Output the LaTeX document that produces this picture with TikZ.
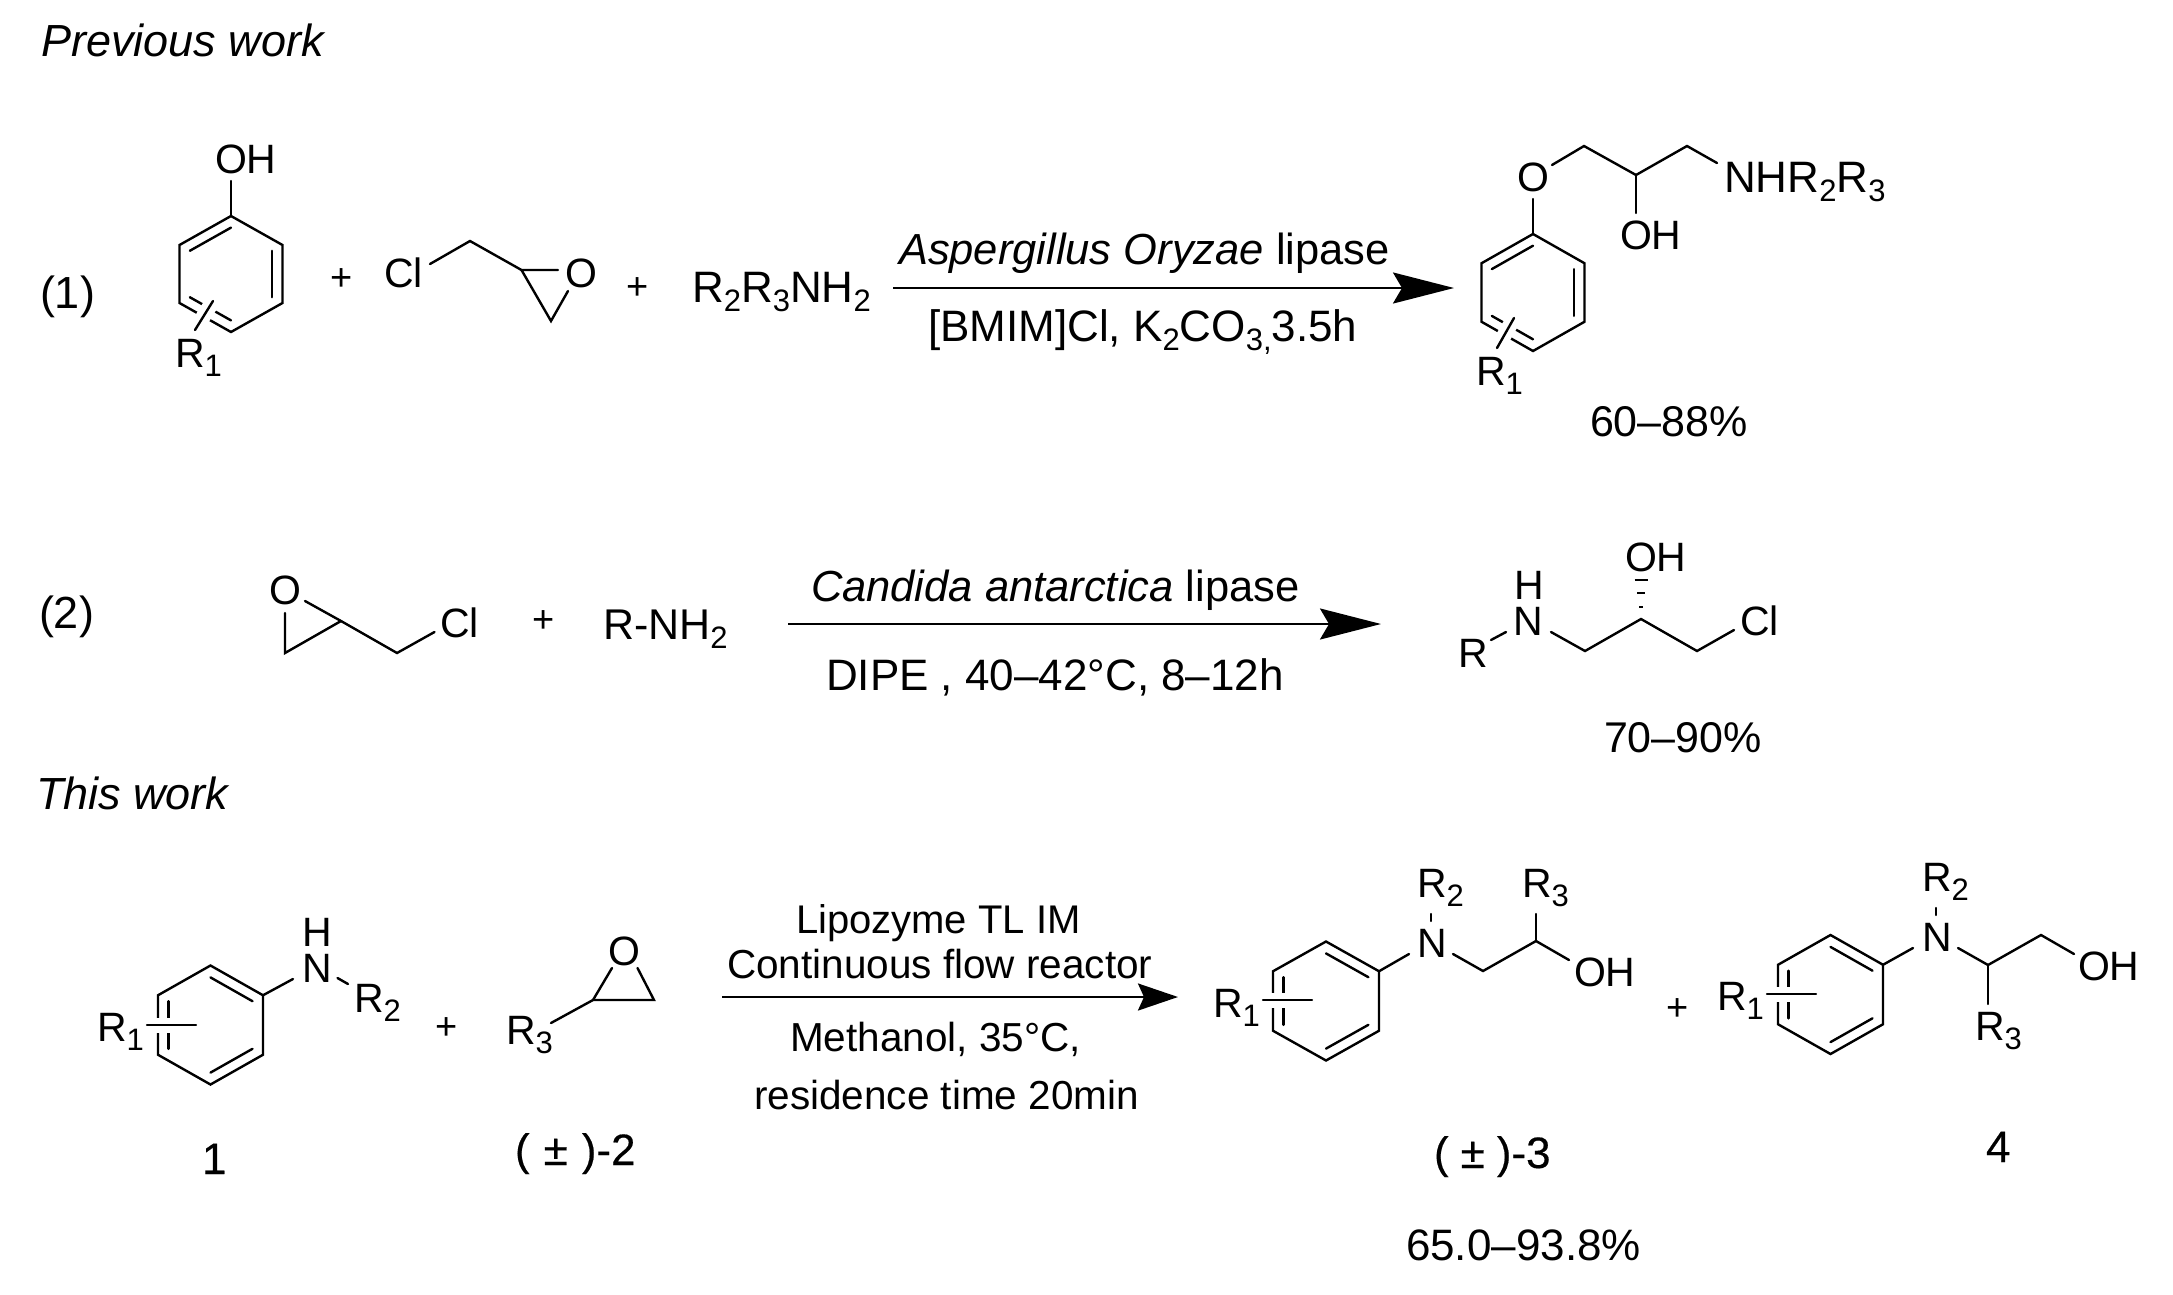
\documentclass[tikz,border=0pt]{standalone}
\usepackage{fontspec}
\setmainfont{Liberation Sans}
\newfontfamily\heavyfont[FakeBold=0.4]{Liberation Sans}
\usetikzlibrary{arrows.meta,calc}
\newcommand{\sbs}[1]{\raisebox{-9pt}{\fontsize{31}{31}\selectfont #1}}
\newcommand{\ringbase}[5]{%
  \coordinate (#1c) at (#2,#3);
  \coordinate (#11) at (#2,#3-#5);
  \coordinate (#12) at (#2+#4,#3-#5/2);
  \coordinate (#13) at (#2+#4,#3+#5/2);
  \coordinate (#14) at (#2,#3+#5);
  \coordinate (#15) at (#2-#4,#3+#5/2);
  \coordinate (#16) at (#2-#4,#3-#5/2);
  \draw[bond] (#11)--(#12)--(#13)--(#14)--(#15)--(#16)--cycle;}
\newcommand{\inner}[3]{\draw[bond] ($(#1#2)!.2!(#1c)$) -- ($(#1#3)!.2!(#1c)$);}
\newcommand{\ringA}[5]{\ringbase{#1}{#2}{#3}{#4}{#5}\inner{#1}{6}{1}\inner{#1}{2}{3}\inner{#1}{4}{5}}
\newcommand{\ringB}[5]{\ringbase{#1}{#2}{#3}{#4}{#5}\inner{#1}{1}{2}\inner{#1}{3}{4}\inner{#1}{5}{6}}
\newcommand{\subst}[2]{\draw[line width=15pt,white] (#1)--(#2); \draw[bond] (#1)--(#2);}
\tikzset{
  bond/.style={line width=2.4pt,line cap=round,line join=miter,black},
  rxn/.style={line width=2.5pt,black,-{Stealth[length=61pt,width=31pt,inset=9pt]}},
  rxnsmall/.style={line width=2.5pt,black,-{Stealth[length=40pt,width=27pt,inset=6pt]}},
  txt/.style={inner sep=0pt,outer sep=0pt,anchor=base west,font=\fontsize{41}{41}\selectfont},
  fs/.style={font=\fontsize{#1}{#1}\selectfont},
  plussign/.style={inner sep=0pt,anchor=center,font=\fontsize{38}{38}\selectfont},
  heavy/.style={txt,font=\fontsize{44}{44}\selectfont\heavyfont},
}
\begin{document}
\begin{tikzpicture}[x=1pt,y=-1pt]
\useasboundingbox[fill=white] (0,0) rectangle (2173,1294);
% headings
\node[txt,fs=45] (prev) at (41,56) {\itshape Previous work};
\node[txt,fs=45] (this) at (36,809) {\itshape This work};
\node[txt,fs=45] (lab1) at (40,308) {(1)};
\node[txt,fs=45] (lab2) at (39,628) {(2)};
% phenol
\ringA{pa}{231}{274}{51.5}{58}
\node[txt] (paoh) at (215,173) {OH};
\coordinate (pab) at (231,181);
\draw[bond] (pab)--(pa1);
\coordinate (pas1) at (195,330); \coordinate (pas2) at (213,301);
\subst{pas1}{pas2}
\node[txt] (par) at (175,367) {R\sbs{1}};
\node[plussign] (plusa) at (341.5,280) {+};
% epichlorohydrin 1
\node[txt] (clb) at (384,287) {Cl};
\node[txt] (oa) at (565,287) {O};
\coordinate (ea0) at (430,264); \coordinate (ea1) at (470,241); \coordinate (ea2) at (521.5,270);
\coordinate (ea3) at (558,270); \coordinate (ea4) at (551,321); \coordinate (ea5) at (568,291);
\draw[bond] (ea0)--(ea1)--(ea2)--(ea3);
\draw[bond] (ea2)--(ea4)--(ea5);
\node[plussign] (plusb) at (638,289) {+};
\node[txt,fs=44] (amine) at (692,302) {R\sbs{2}R\sbs{3}NH\sbs{2}};
% arrow 1
\coordinate (a1s) at (893,288); \coordinate (a1e) at (1454,288);
\draw[rxn] (a1s)--(a1e);
\node[txt,fs=43.5] (a1t) at (899,264) {\itshape Aspergillus Oryzae\upshape{} lipase};
\node[txt,fs=44] (a1b) at (928,341) {[BMIM]Cl, K\sbs{2}CO\sbs{3,}3.5h};
% product 1
\ringA{pb}{1533}{292.5}{51.5}{58.5}
\node[txt] (ob) at (1517,191) {O};
\coordinate (pbb) at (1533,199); \draw[bond] (pbb)--(pb1);
\coordinate (c1) at (1552,165); \coordinate (c2) at (1584,146); \coordinate (c3) at (1636,175);
\coordinate (c4) at (1687,146); \coordinate (c5) at (1717,163); \coordinate (c6) at (1636,213);
\draw[bond] (c1)--(c2)--(c3)--(c4)--(c5);
\draw[bond] (c3)--(c6);
\node[txt] (ohb) at (1620,249) {OH};
\node[txt,fs=44] (nhr) at (1724,192) {NHR\sbs{2}R\sbs{3}};
\coordinate (pbs1) at (1497,348); \coordinate (pbs2) at (1514,318);
\subst{pbs1}{pbs2}
\node[txt] (pbr) at (1476,385) {R\sbs{1}};
\node[txt,fs=43] (y1) at (1590,436) {60--88\%};
% row 2
\node[txt] (oc) at (269,604) {O};
\coordinate (e1) at (305,601); \coordinate (e2) at (341,621); \coordinate (e3) at (397,653);
\coordinate (e4) at (434.5,632); \coordinate (e5) at (285,613); \coordinate (e6) at (285,653);
\draw[bond] (e1)--(e2)--(e3)--(e4);
\draw[bond] (e5)--(e6)--(e2);
\node[txt] (clc) at (440,637) {Cl};
\node[plussign] (plusc) at (544,622) {+};
\node[txt,fs=43] (rnh) at (603,639) {R-NH\sbs{2}};
\coordinate (a2s) at (788,624); \coordinate (a2e) at (1381,624);
\draw[rxn] (a2s)--(a2e);
\node[txt,fs=43.5] (a2t) at (811,601) {\itshape Candida antarctica\upshape{} lipase};
\node[txt,fs=44] (a2b) at (826,690) {DIPE , 40--42°C, 8--12h};
% product 2
\node[txt] (rd) at (1458,667) {R};
\node[txt] (nd) at (1513,635) {N};
\node[txt] (hd) at (1514,599) {H};
\coordinate (d0) at (1491,640); \coordinate (d1) at (1506,632); \draw[bond] (d0)--(d1);
\coordinate (d2) at (1551,632); \coordinate (d3) at (1585,651); \coordinate (d4) at (1641,619);
\coordinate (d5) at (1697,651); \coordinate (d6) at (1734,630);
\draw[bond] (d2)--(d3)--(d4)--(d5)--(d6);
\node[txt] (cld) at (1740,635) {Cl};
\node[txt] (ohd) at (1625,571) {OH};
\coordinate (h1a) at (1634.5,580); \coordinate (h1b) at (1647.5,580);
\coordinate (h2a) at (1637,593); \coordinate (h2b) at (1645,593);
\coordinate (h3a) at (1639,607); \coordinate (h3b) at (1643,607);
\draw[bond,line cap=butt] (h1a)--(h1b);
\draw[bond,line cap=butt] (h2a)--(h2b);
\draw[bond,line cap=butt] (h3a)--(h3b);
\node[txt,fs=43] (y2) at (1604,752) {70--90\%};
% row 3: aniline
\ringB{pc}{210.5}{1025}{52.5}{59.5}
\coordinate (pcs1) at (147,1025); \coordinate (pcs2) at (196,1025);
\subst{pcs1}{pcs2}
\node[txt] (pcr) at (97,1041) {R\sbs{1}};
\node[txt] (ne) at (302,982) {N};
\node[txt] (he) at (302,946) {H};
\coordinate (pcn) at (293,979); \draw[bond] (pc2)--(pcn);
\coordinate (g1) at (337.5,978); \coordinate (g2) at (348,984); \draw[bond] (g1)--(g2);
\node[txt] (r2e) at (354,1012) {R\sbs{2}};
\node[plussign] (plusd) at (447,1029) {+};
\node[txt] (r3e) at (506,1044) {R\sbs{3}};
\coordinate (f1) at (551,1023); \coordinate (f2) at (593,1000); \coordinate (f3) at (654,1000);
\coordinate (f4) at (612,968); \coordinate (f5) at (637.5,968);
\draw[bond] (f1)--(f2)--(f3)--(f5);
\draw[bond] (f2)--(f4);
\node[txt] (oe) at (608,965) {O};
\node[heavy] (cp1) at (202,1174) {1};
\node[heavy] (cp2) at (515,1165) {(\hspace{14pt}±\hspace{14pt})-2};
% arrow 3
\coordinate (a3s) at (722,997); \coordinate (a3e) at (1178,997);
\draw[rxnsmall] (a3s)--(a3e);
\node[txt,fs=40] (a3a) at (796,933) {Lipozyme TL IM};
\node[txt,fs=40.5] (a3b) at (727,978) {Continuous flow reactor};
\node[txt,fs=40.5] (a3c) at (790,1051) {Methanol, 35°C,};
\node[txt,fs=40.5] (a3d) at (754,1109) {residence time 20min};
% product 3
\ringB{pd}{1326}{1001}{53}{59.5}
\coordinate (pds1) at (1263,1000); \coordinate (pds2) at (1312,1000);
\subst{pds1}{pds2}
\node[txt] (pdr) at (1213,1017) {R\sbs{1}};
\node[txt] (nf) at (1417,957) {N};
\coordinate (pdn) at (1409,954); \draw[bond] (pd2)--(pdn);
\node[txt] (r2f) at (1417,897) {R\sbs{2}};
\coordinate (k1) at (1431,914); \coordinate (k2) at (1431,921); \draw[bond] (k1)--(k2);
\coordinate (l1) at (1453,954); \coordinate (l2) at (1483,971); \coordinate (l3) at (1536,941);
\coordinate (l4) at (1569,960); \coordinate (l5) at (1536,914);
\draw[bond] (l1)--(l2)--(l3)--(l4);
\draw[bond] (l3)--(l5);
\node[txt] (r3f) at (1522,897) {R\sbs{3}};
\node[txt] (ohf) at (1574,986) {OH};
\node[heavy] (cp3) at (1434,1168) {(\hspace{12pt}±\hspace{12pt})-3};
\node[txt,fs=44] (y3) at (1406,1260) {65.0--93.8\%};
\node[plussign] (pluse) at (1678,1010) {+};
% product 4
\ringB{pe}{1830.5}{994.5}{52.5}{59.5}
\coordinate (pes1) at (1767,994); \coordinate (pes2) at (1816,994);
\subst{pes1}{pes2}
\node[txt] (per) at (1717,1010) {R\sbs{1}};
\node[txt] (ng) at (1922,951) {N};
\coordinate (pen) at (1913,948); \draw[bond] (pe2)--(pen);
\node[txt] (r2g) at (1922,891) {R\sbs{2}};
\coordinate (m1) at (1936,908); \coordinate (m2) at (1936,915); \draw[bond] (m1)--(m2);
\coordinate (q1) at (1958,948); \coordinate (q2) at (1988,965); \coordinate (q3) at (2041,935);
\coordinate (q4) at (2074,954); \coordinate (q5) at (1988,1004);
\draw[bond] (q1)--(q2)--(q3)--(q4);
\draw[bond] (q2)--(q5);
\node[txt] (r3g) at (1975,1040) {R\sbs{3}};
\node[txt] (ohg) at (2078,980) {OH};
\node[heavy] (cp4) at (1986,1162) {4};
\end{tikzpicture}
\end{document}
